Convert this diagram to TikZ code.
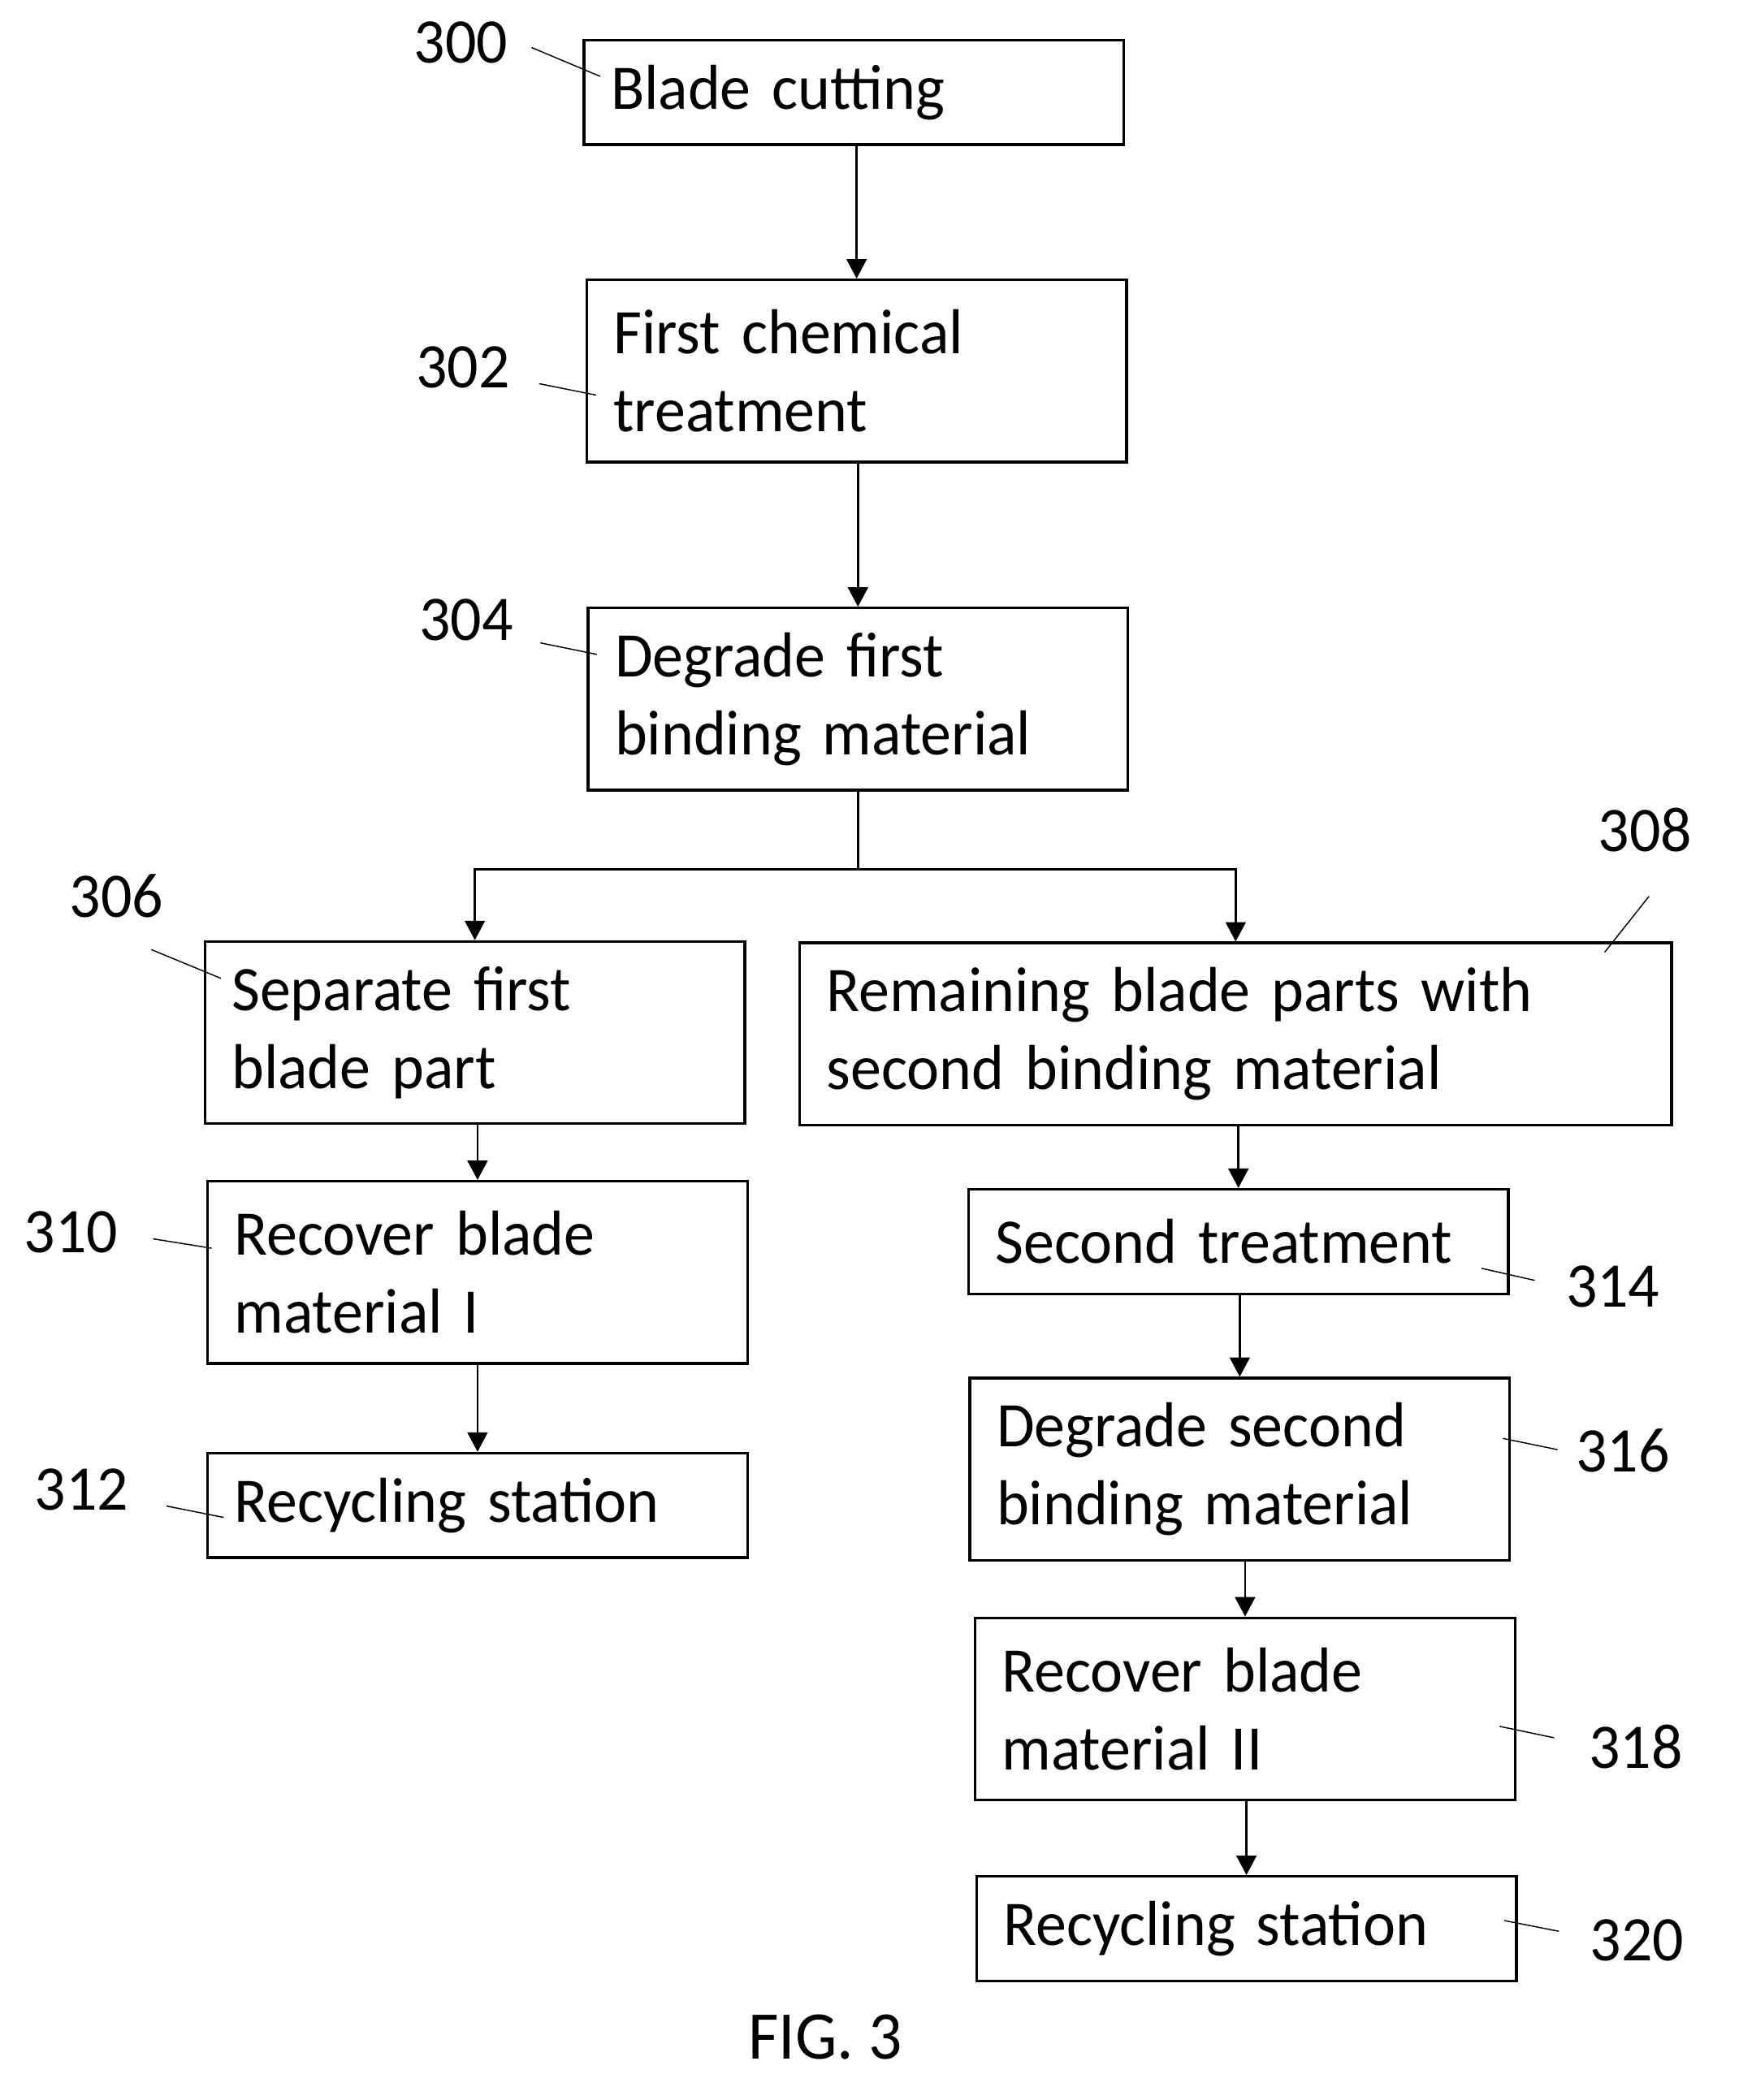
\documentclass[tikz,border=0pt]{standalone}
\usepackage{fontspec}
\setmainfont{Carlito}[FakeStretch=0.97]
\usetikzlibrary{arrows.meta}

\begin{document}
\begin{tikzpicture}[x=0.02cm, y=-0.02cm, font=\fontsize{27}{33}\selectfont,
    box/.style={draw, line width=1.15pt, anchor=north west, align=left,
      inner xsep=0.4cm, inner ysep=0pt, text width=#1},
    box/.default=7.26cm,
    one/.style={minimum height=1.56cm},
    two/.style={minimum height=2.72cm},
    arr/.style={line width=0.9pt, -{Triangle[length=0.29cm,width=0.3cm]}},
    lead/.style={line width=0.5pt},
    num/.style={inner sep=0pt}]
    \useasboundingbox (0,0) rectangle (1298,1568);

    % boxes
    \node[box, one] (b300) at (435,29) {Blade cutting};
    \node[box, two] (b302) at (437,208) {First chemical\\treatment};
    \node[box, two] (b304) at (438,453) {Degrade first\\binding material};
    \node[box, two] (b306) at (152,702) {Separate first\\blade part};
    \node[box=12.22cm, two] (b308) at (596,703) {Remaining blade parts with\\second binding material};
    \node[box, two] (b310) at (154,881) {Recover blade\\material I};
    \node[box, one] (b312) at (154,1084) {Recycling station};
    \node[box, one] (b314) at (722,887) {Second treatment};
    \node[box, two] (b316) at (723,1028) {Degrade second\\binding material};
    \node[box, two] (b318) at (727,1207) {Recover blade\\material II};
    \node[box, one] (b320) at (728,1400) {Recycling station};

    % flow
    \draw[arr] (b300.south -| b302.north) -- (b302.north);
    \draw[arr] (b302.south -| b304.north) -- (b304.north);
    \draw[line width=0.9pt] (b304.south) -- ++(0,58) coordinate (fork);
    \draw[arr] (fork) -| (b306.north);
    \draw[arr] (fork) -| (b308.north);
    \draw[arr] (b306.south -| b310.north) -- (b310.north);
    \draw[arr] (b310.south -| b312.north) -- (b312.north);
    \draw[arr] (b308.south -| b314.north) -- (b314.north);
    \draw[arr] (b314.south -| b316.north) -- (b316.north);
    \draw[arr] (b316.south -| b318.north) -- (b318.north);
    \draw[arr] (b318.south -| b320.north) -- (b320.north);

    % reference numbers
    \node[num] (l300) at (344,31.5) {300};
    \node[num] (l302) at (345.5,274.5) {302};
    \node[num] (l304) at (348,463) {304};
    \node[num] (l306) at (87,669) {306};
    \node[num] (l308) at (1228,619.5) {308};
    \node[num] (l310) at (53,920) {310};
    \node[num] (l312) at (61,1112.5) {312};
    \node[num] (l314) at (1204,960.5) {314};
    \node[num] (l316) at (1211.5,1083) {316};
    \node[num] (l318) at (1221,1304.5) {318};
    \node[num] (l320) at (1222,1449) {320};
    \draw[lead] ([shift={(17.5,4)}]l300.east) -- ([shift={(13,28)}]b300.north west);
    \draw[lead] ([shift={(21.7,12)}]l302.east) -- ([shift={(8,87)}]b302.north west);
    \draw[lead] ([shift={(20,17)}]l304.east) -- ([shift={(7.6,35.6)}]b304.north west);
    \draw[lead] ([shift={(26,23.5)}]l306.south) -- ([shift={(13,28.5)}]b306.north west);
    \draw[lead] ([shift={(3,33)}]l308.south) -- ([shift={(-51,8)}]b308.north east);
    \draw[lead] ([shift={(26,5)}]l310.east) -- ([shift={(4,51)}]b310.north west);
    \draw[lead] ([shift={(28,12)}]l312.east) -- ([shift={(13,49)}]b312.north west);
    \draw[lead] ([shift={(-21,60)}]b314.north east) -- ([shift={(-23,-4.5)}]l314.west);
    \draw[lead] ([shift={(-6,46)}]b316.north east) -- ([shift={(-13.4,-0.6)}]l316.west);
    \draw[lead] ([shift={(-12.5,82)}]b318.north east) -- ([shift={(-25.6,-7)}]l318.west);
    \draw[lead] ([shift={(-10,34)}]b320.north east) -- ([shift={(-23,-7)}]l320.west);

    \node[num, font=\fontsize{29}{35}\selectfont] (fig) at (616,1521) {FIG. 3};
\end{tikzpicture}
\end{document}
